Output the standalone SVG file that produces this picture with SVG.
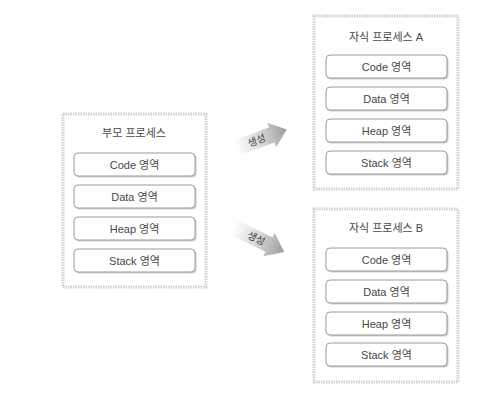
<svg xmlns="http://www.w3.org/2000/svg" width="494" height="414" viewBox="0 0 494 414">
<style>
.outer{fill:#fff;stroke:#d2d2d2;stroke-width:3;stroke-dasharray:1.5 1}
.shadow{fill:#cfcfcf}
.seg{fill:#fff;stroke:#9a9a9a;stroke-width:1}
text{font-family:"Liberation Sans","Noto Sans CJK KR",sans-serif;font-size:11px;fill:#474747;text-anchor:middle}
.arrow{fill:url(#ag)}
.lbl{font-family:"Noto Sans CJK KR",sans-serif;font-size:10px;fill:#3a3a3a}
</style>
<defs>
<linearGradient id="ag" x1="0" y1="0" x2="1" y2="0">
<stop offset="0" stop-color="#ffffff"/>
<stop offset="0.5" stop-color="#d6d6d6"/>
<stop offset="1" stop-color="#9c9c9c"/>
</linearGradient>
<g id="segs">
<rect class="shadow" x="1.5" y="1.5" width="121" height="23" rx="4"/>
<rect class="seg" x="0" y="0" width="121" height="23" rx="4"/>
</g>
</defs>
<rect width="494" height="414" fill="#fff"/>
<g id="parent">
<rect class="outer" x="63" y="114" width="143" height="173"/>
<text x="134" y="137">부모 프로세스</text>
<use href="#segs" x="74" y="153"/><text x="134.5" y="168.5">Code 영역</text>
<use href="#segs" x="74" y="185"/><text x="134.5" y="200.5">Data 영역</text>
<use href="#segs" x="74" y="217"/><text x="134.5" y="232.5">Heap 영역</text>
<use href="#segs" x="74" y="249"/><text x="134.5" y="264.5">Stack 영역</text>
</g>
<g id="childA">
<rect class="outer" x="314" y="16" width="144" height="173"/>
<text x="386" y="41">자식 프로세스 A</text>
<use href="#segs" x="326" y="55"/><text x="386.5" y="70.5">Code 영역</text>
<use href="#segs" x="326" y="87"/><text x="386.5" y="102.5">Data 영역</text>
<use href="#segs" x="326" y="119"/><text x="386.5" y="134.5">Heap 영역</text>
<use href="#segs" x="326" y="151"/><text x="386.5" y="166.5">Stack 영역</text>
</g>
<g id="childB">
<rect class="outer" x="314" y="209" width="144" height="173"/>
<text x="386" y="232">자식 프로세스 B</text>
<use href="#segs" x="326" y="248"/><text x="386.5" y="263.5">Code 영역</text>
<use href="#segs" x="326" y="280"/><text x="386.5" y="295.5">Data 영역</text>
<use href="#segs" x="326" y="312"/><text x="386.5" y="327.5">Heap 영역</text>
<use href="#segs" x="326" y="343"/><text x="386.5" y="358.5">Stack 영역</text>
</g>
<g id="connectors">
<g transform="translate(236,148) rotate(-20)">
<polygon class="arrow" points="0,-8 38,-8 38,-13 54,0 38,13 38,8 0,8"/>
<text class="lbl" x="22" y="3.5">생성</text>
</g>
<g transform="translate(233,227) rotate(26)">
<polygon class="arrow" points="0,-8 40,-8 40,-13 57,0 40,13 40,8 0,8"/>
<text class="lbl" x="26" y="3.5">생성</text>
</g>
</g>
</svg>
